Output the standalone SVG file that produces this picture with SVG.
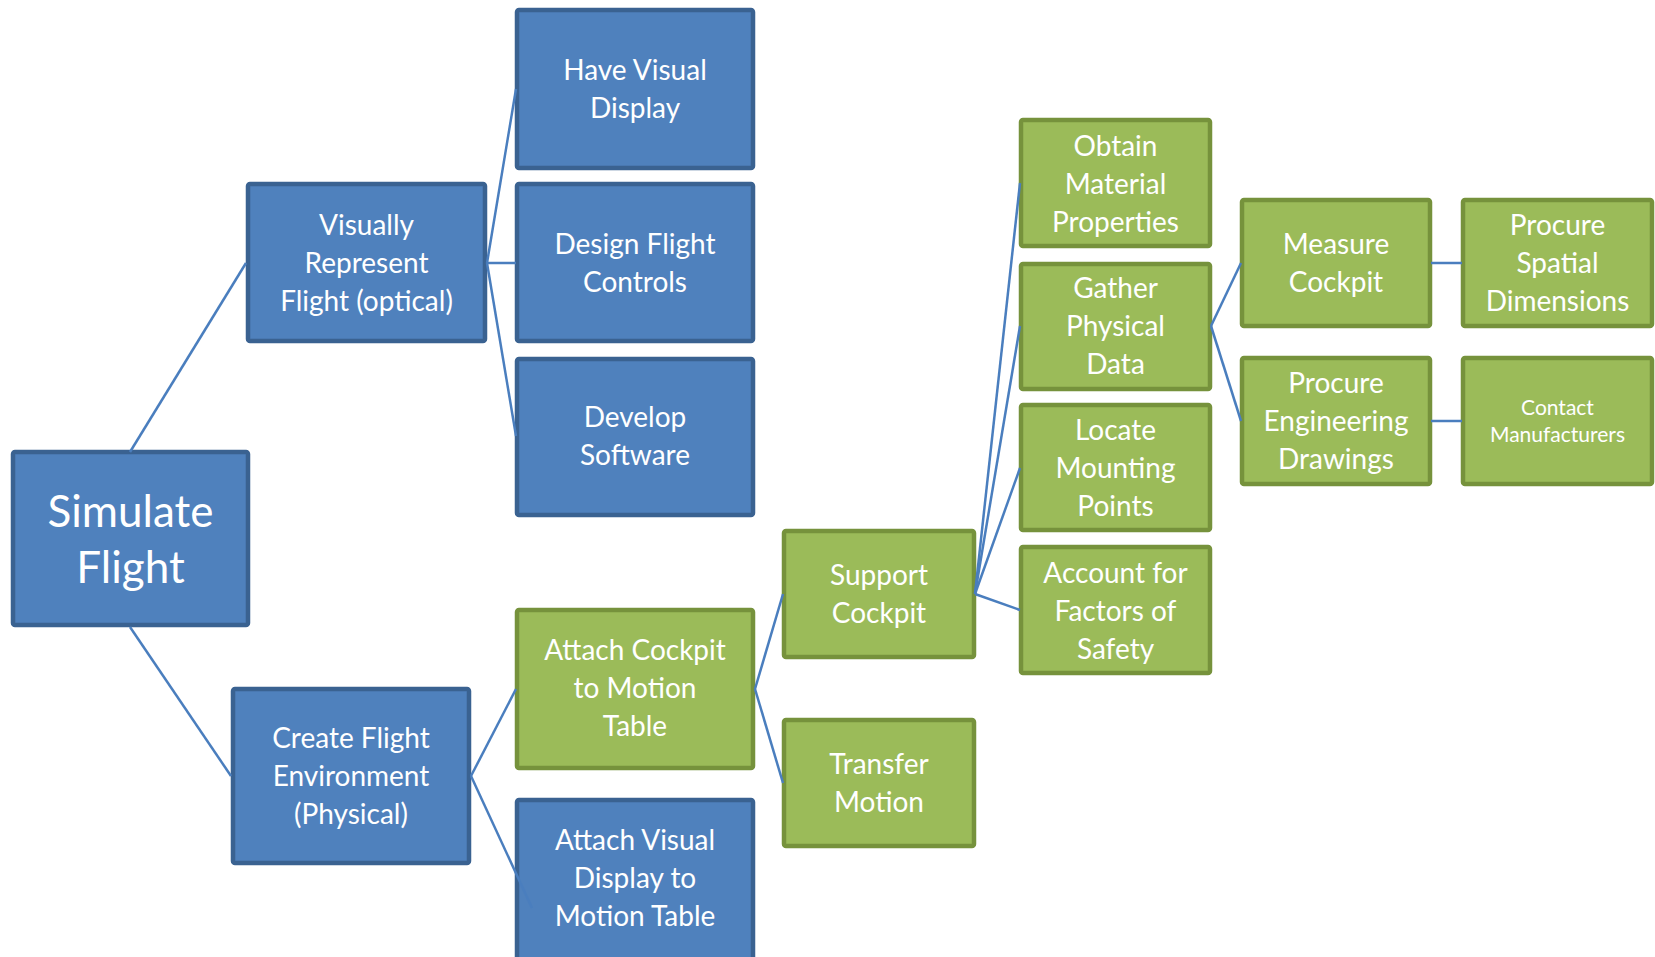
<svg xmlns="http://www.w3.org/2000/svg" width="1655" height="957" viewBox="0 0 1655 957">
<style>
.b{fill:#4F81BD;stroke:#3A6291;stroke-width:4.5}
.g{fill:#9BBB59;stroke:#76923C;stroke-width:4.5}
text{font-family:Lato,"Open Sans","Liberation Sans",sans-serif;fill:#FFFFFF;text-anchor:middle;font-size:28px}
.big{font-size:44px}
.small{font-size:21px}
#connectors line{stroke:#4A7EBE;stroke-width:2.5;fill:none}
</style>
<rect width="1655" height="957" fill="#FFFFFF"/>
<g id="nodes">
<g id="simulate"><rect class="b" x="13" y="452" width="235" height="173" rx="2"/><text class="big" x="130.5" y="527">Simulate</text><text class="big" x="130.5" y="583">Flight</text></g>
<g id="visually"><rect class="b" x="248" y="184" width="237" height="157" rx="2"/><text x="366.5" y="235">Visually</text><text x="366.5" y="273">Represent</text><text x="366.5" y="311">Flight (optical)</text></g>
<g id="have-visual"><rect class="b" x="517" y="10" width="236" height="158" rx="2"/><text x="635" y="80">Have Visual</text><text x="635" y="118">Display</text></g>
<g id="design"><rect class="b" x="517" y="184" width="236" height="157" rx="2"/><text x="635" y="254">Design Flight</text><text x="635" y="292">Controls</text></g>
<g id="develop"><rect class="b" x="517" y="359" width="236" height="156" rx="2"/><text x="635" y="427">Develop</text><text x="635" y="465">Software</text></g>
<g id="create"><rect class="b" x="233" y="689" width="236" height="174" rx="2"/><text x="351" y="748">Create Flight</text><text x="351" y="786">Environment</text><text x="351" y="824">(Physical)</text></g>
<g id="attach-cockpit"><rect class="g" x="517" y="610" width="236" height="158" rx="2"/><text x="635" y="660">Attach Cockpit</text><text x="635" y="698">to Motion</text><text x="635" y="736">Table</text></g>
<g id="attach-visual"><rect class="b" x="517" y="800" width="236" height="160" rx="2"/><text x="635" y="850">Attach Visual</text><text x="635" y="888">Display to</text><text x="635" y="926">Motion Table</text></g>
<g id="support"><rect class="g" x="784" y="531" width="190" height="126" rx="2"/><text x="879" y="585">Support</text><text x="879" y="623">Cockpit</text></g>
<g id="transfer"><rect class="g" x="784" y="720" width="190" height="126" rx="2"/><text x="879" y="774">Transfer</text><text x="879" y="812">Motion</text></g>
<g id="obtain"><rect class="g" x="1021" y="120" width="189" height="126" rx="2"/><text x="1115.5" y="156">Obtain</text><text x="1115.5" y="194">Material</text><text x="1115.5" y="232">Properties</text></g>
<g id="gather"><rect class="g" x="1021" y="264" width="189" height="125" rx="2"/><text x="1115.5" y="298">Gather</text><text x="1115.5" y="336">Physical</text><text x="1115.5" y="374">Data</text></g>
<g id="locate"><rect class="g" x="1021" y="405" width="189" height="125" rx="2"/><text x="1115.5" y="440">Locate</text><text x="1115.5" y="478">Mounting</text><text x="1115.5" y="516">Points</text></g>
<g id="account"><rect class="g" x="1021" y="547" width="189" height="126" rx="2"/><text x="1115.5" y="583">Account for</text><text x="1115.5" y="621">Factors of</text><text x="1115.5" y="659">Safety</text></g>
<g id="measure"><rect class="g" x="1242" y="200" width="188" height="126" rx="2"/><text x="1336" y="254">Measure</text><text x="1336" y="292">Cockpit</text></g>
<g id="spatial"><rect class="g" x="1463" y="200" width="189" height="126" rx="2"/><text x="1557.5" y="235">Procure</text><text x="1557.5" y="273">Spatial</text><text x="1557.5" y="311">Dimensions</text></g>
<g id="engineering"><rect class="g" x="1242" y="358" width="188" height="126" rx="2"/><text x="1336" y="393">Procure</text><text x="1336" y="431">Engineering</text><text x="1336" y="469">Drawings</text></g>
<g id="contact"><rect class="g" x="1463" y="358" width="189" height="126" rx="2"/><text class="small" x="1557.5" y="415">Contact</text><text class="small" x="1557.5" y="442">Manufacturers</text></g>
</g>
<g id="connectors">
<line x1="130" y1="452" x2="246" y2="263"/>
<line x1="130" y1="627" x2="231" y2="776"/>
<line x1="487" y1="263" x2="516" y2="89"/>
<line x1="487" y1="263" x2="516" y2="263"/>
<line x1="487" y1="263" x2="516" y2="436"/>
<line x1="471" y1="776" x2="516" y2="689"/>
<line x1="471" y1="776" x2="532" y2="908"/>
<line x1="755" y1="689" x2="783" y2="594"/>
<line x1="755" y1="689" x2="783" y2="783"/>
<line x1="975" y1="594" x2="1020" y2="183"/>
<line x1="975" y1="594" x2="1020" y2="326"/>
<line x1="975" y1="594" x2="1020" y2="468"/>
<line x1="975" y1="594" x2="1020" y2="610"/>
<line x1="1211" y1="326" x2="1241" y2="263"/>
<line x1="1211" y1="326" x2="1241" y2="421"/>
<line x1="1431" y1="263" x2="1462" y2="263"/>
<line x1="1431" y1="421" x2="1462" y2="421"/>
</g>
</svg>
